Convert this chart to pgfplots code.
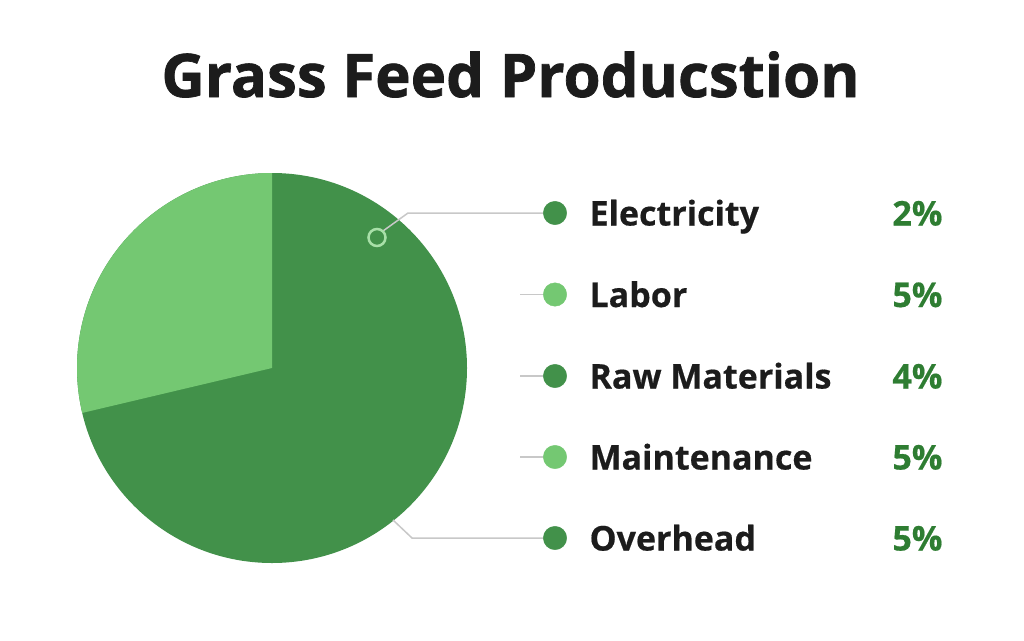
\documentclass[border=0pt]{standalone}
\usepackage{pgfplots}
\pgfplotsset{compat=1.18}
\usepackage{fontspec}
\setmainfont{Open Sans}
\newfontfamily\titlefont{Open Sans}[BoldFeatures={FakeBold=1.2}]
\newfontfamily\labfont{Open Sans}[BoldFeatures={FakeBold=0.5}]
\definecolor{darkg}{HTML}{42914A}
\definecolor{lightg}{HTML}{74C872}
\definecolor{ringg}{HTML}{A8E0A8}
\definecolor{pctg}{HTML}{2E7D32}
\definecolor{txt}{HTML}{1C1C1C}
\definecolor{lead}{HTML}{C8C8C8}
\newcommand{\lab}{\labfont\bfseries\fontsize{34}{34}\selectfont}
\begin{document}
\begin{tikzpicture}
\begin{axis}[
  width=1024pt, height=640pt, scale only axis,
  xmin=0, xmax=1024, ymin=0, ymax=640, y dir=reverse,
  hide axis, clip=false,
]
\path[fill=white] (axis cs:0,0) rectangle (axis cs:1024,640);
% pie: light slice share (percent of whole)
\pgfmathsetmacro{\lightshare}{28.7}
\pgfmathsetmacro{\endang}{90+3.6*\lightshare}
\fill[darkg] (axis cs:272,368) circle[radius=195pt];
\fill[lightg] (axis cs:272,368) -- (axis cs:272,173) arc[start angle=90, end angle=\endang, radius=195pt] -- cycle;

% leader lines
\draw[lead, line width=1.5pt] (axis cs:383,231) -- (axis cs:408,213) -- (axis cs:545,213);
\draw[lead, line width=1.5pt] (axis cs:393,520) -- (axis cs:412,538) -- (axis cs:545,538);
\draw[lead, line width=1.5pt] (axis cs:520,294.5) -- (axis cs:545,294.5);
\draw[lead, line width=1.5pt] (axis cs:520,376) -- (axis cs:545,376);
\draw[lead, line width=1.5pt] (axis cs:520,457) -- (axis cs:545,457);
\addplot[only marks, mark=*, mark size=8.5pt, mark options={fill=darkg, draw=ringg, line width=2.5pt}] coordinates {(377,237.5)};

% legend dots
\addplot[only marks, mark=*, mark size=11.7pt, color=darkg] coordinates {(555,213) (555,376) (555,538)};
\addplot[only marks, mark=*, mark size=11.7pt, color=lightg] coordinates {(555,294.5) (555,457)};

% legend texts
\node[anchor=base west, font=\lab, text=txt] at (axis cs:586,225.5) {Electricity};
\node[anchor=base west, font=\lab, text=txt] at (axis cs:586,307) {Labor};
\node[anchor=base west, font=\lab, text=txt] at (axis cs:586,388.5) {Raw Materials};
\node[anchor=base west, font=\lab, text=txt] at (axis cs:586,469.5) {Maintenance};
\node[anchor=base west, font=\lab, text=txt] at (axis cs:586,550.5) {Overhead};
\node[anchor=base east, font=\lab, text=pctg] at (axis cs:946,225.5) {2\%};
\node[anchor=base east, font=\lab, text=pctg] at (axis cs:946,307) {5\%};
\node[anchor=base east, font=\lab, text=pctg] at (axis cs:946,388.5) {4\%};
\node[anchor=base east, font=\lab, text=pctg] at (axis cs:946,469.5) {5\%};
\node[anchor=base east, font=\lab, text=pctg] at (axis cs:946,550.5) {5\%};

% title
\node[anchor=base, font=\titlefont\bfseries\fontsize{60}{60}\selectfont, text=txt] at (axis cs:510.5,97) {Grass Feed Producstion};
\end{axis}
\end{tikzpicture}
\end{document}
